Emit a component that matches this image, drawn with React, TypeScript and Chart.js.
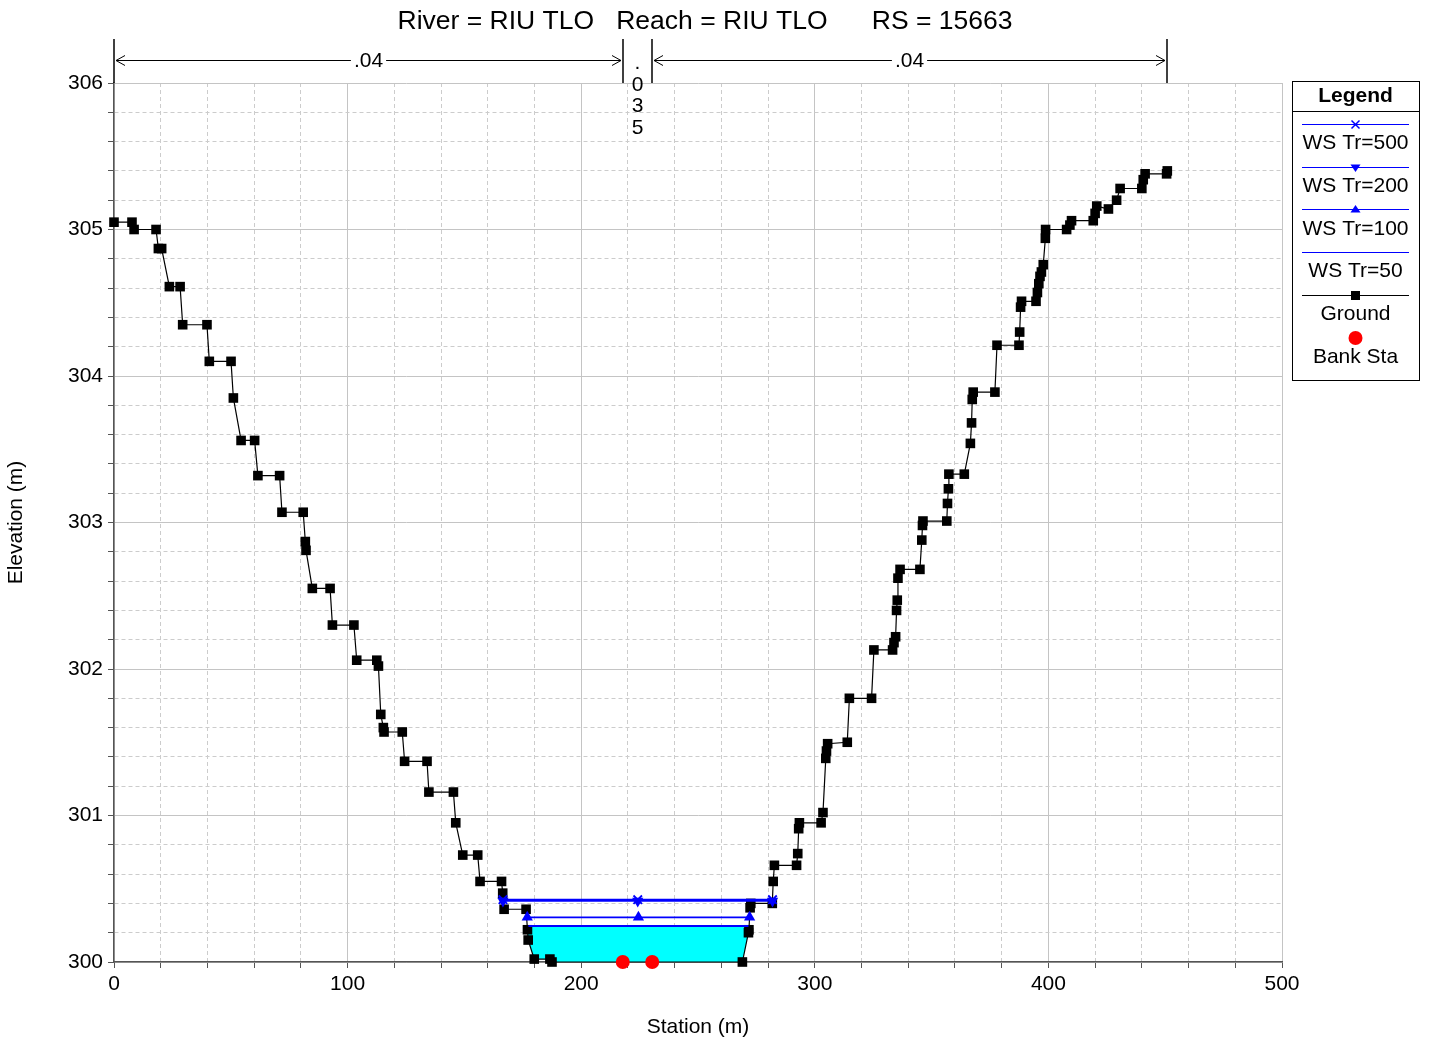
import React, { useEffect, useRef } from 'react';
import { Chart, registerables } from 'chart.js';

Chart.register(...registerables);

const FONT = '"Liberation Sans", Arial, Helvetica, sans-serif';

const titleText = 'River = RIU TLO   Reach = RIU TLO      RS = 15663';
const xAxisTitle = 'Station (m)';
const yAxisTitle = 'Elevation (m)';

const groundStation = [
  0, 7.7, 8.6, 18.0, 19.0, 20.4, 23.7, 28.3, 29.4, 39.8, 40.8, 50.1, 51.1, 54.4, 60.2, 61.6, 70.9, 71.9, 81.0,
  81.9, 82.2, 84.9, 92.5, 93.5, 102.7, 103.9, 112.5, 113.2, 114.2, 115.3, 115.6, 123.4, 124.4, 134.0, 134.8,
  145.3, 146.3, 149.3, 155.7, 156.7, 165.9, 166.4, 167.0, 176.4, 177.0, 177.3, 179.9, 186.6, 187.5, 269.0,
  271.6, 271.8, 272.3, 272.6, 281.8, 282.2, 282.7, 292.2, 292.7, 293.1, 293.4, 302.7, 303.5, 304.7, 305.0,
  305.5, 313.9, 314.8, 324.3, 325.3, 333.3, 333.9, 334.6, 335.0, 335.3, 335.6, 336.5, 345.0, 345.8, 346.1,
  346.3, 356.5, 356.8, 357.2, 357.4, 364.0, 366.6, 367.1, 367.4, 367.8, 377.1, 378.0, 387.4, 387.7, 388.1,
  388.5, 394.7, 395.3, 395.9, 396.4, 397.0, 397.8, 398.7, 398.8, 407.8, 409.2, 409.9, 419.2, 420.0, 420.7,
  425.7, 429.2, 430.7, 440.0, 440.6, 441.4, 450.6, 450.9,
];
const groundElevation = [
  305.05, 305.05, 305.0, 305.0, 304.87, 304.87, 304.61, 304.61, 304.35, 304.35, 304.1, 304.1, 303.85, 303.56,
  303.56, 303.32, 303.32, 303.07, 303.07, 302.87, 302.81, 302.55, 302.55, 302.3, 302.3, 302.06, 302.06, 302.02,
  301.69, 301.6, 301.57, 301.57, 301.37, 301.37, 301.16, 301.16, 300.95, 300.73, 300.73, 300.55, 300.55,
  300.47, 300.36, 300.36, 300.22, 300.15, 300.02, 300.02, 300.0, 300.0, 300.2, 300.22, 300.37, 300.4, 300.4,
  300.55, 300.66, 300.66, 300.74, 300.91, 300.95, 300.95, 301.02, 301.39, 301.44, 301.49, 301.5, 301.8, 301.8,
  302.13, 302.13, 302.18, 302.22, 302.4, 302.47, 302.62, 302.68, 302.68, 302.88, 302.98, 303.01, 303.01,
  303.13, 303.23, 303.33, 303.33, 303.54, 303.68, 303.84, 303.89, 303.89, 304.21, 304.21, 304.3, 304.47,
  304.51, 304.51, 304.57, 304.63, 304.68, 304.71, 304.76, 304.94, 305.0, 305.0, 305.03, 305.06, 305.06,
  305.11, 305.16, 305.14, 305.2, 305.28, 305.28, 305.34, 305.38, 305.38, 305.4,
];

const bankStation = [217.8, 230.4];
const bankElevation = [300.0, 300.0];

const ws500Station = [166.5, 224.2, 281.9];
const ws500Elevation = 300.425;
const ws200Station = [166.5, 224.2, 281.9];
const ws200Elevation = 300.417;
const ws100Station = [176.9, 224.5, 272.1];
const ws100Elevation = 300.305;
const ws50Station = [177.4, 271.6];
const ws50Elevation = 300.245;

const manningStation = [0, 217.8, 230.4, 450.9];
const manningValue = ['.04', '.035', '.04'];

const xMajorLabels = [0, 100, 200, 300, 400, 500];
const yMajorLabels = [300, 301, 302, 303, 304, 305, 306];
const xMinorStep = 20;
const yMinorStep = 0.2;

const legendLabels = ['WS Tr=500', 'WS Tr=200', 'WS Tr=100', 'WS Tr=50', 'Ground', 'Bank Sta'];

const BLUE = '#0000ff';
const CYAN = '#00ffff';
const RED = '#ff0000';

function buildTicks(min: number, max: number, step: number) {
  const out: { value: number }[] = [];
  const n = Math.round((max - min) / step);
  for (let i = 0; i <= n; i++) out.push({ value: Math.round((min + i * step) * 1000) / 1000 });
  return out;
}

function waterPolygon(st: number[], el: number[], ws: number) {
  const pts: { x: number; y: number }[] = [];
  let started = false;
  for (let i = 0; i < st.length - 1; i++) {
    const a = el[i];
    const b = el[i + 1];
    if (!started && a >= ws && b < ws) {
      const t = (a - ws) / (a - b);
      pts.push({ x: st[i] + t * (st[i + 1] - st[i]), y: ws });
      started = true;
    }
    if (started) {
      if (b < ws) {
        pts.push({ x: st[i + 1], y: b });
      } else {
        const t = (ws - a) / (b - a);
        pts.push({ x: st[i] + t * (st[i + 1] - st[i]), y: ws });
        break;
      }
    }
  }
  return pts;
}

function isMajor(v: number, list: number[]) {
  return list.some((m) => Math.abs(m - v) < 1e-6);
}

function drawTri(ctx: CanvasRenderingContext2D, x: number, y: number, r: number, down: boolean) {
  ctx.beginPath();
  if (down) {
    ctx.moveTo(x - r, y - r * 0.6);
    ctx.lineTo(x + r, y - r * 0.6);
    ctx.lineTo(x, y + r * 0.9);
  } else {
    ctx.moveTo(x - r, y + r * 0.6);
    ctx.lineTo(x + r, y + r * 0.6);
    ctx.lineTo(x, y - r * 0.9);
  }
  ctx.closePath();
  ctx.fill();
}

const decorPlugin = {
  id: 'decor',
  afterDraw(chart: any) {
    const { ctx, chartArea } = chart;
    const xs = chart.scales.x;
    ctx.save();

    // Title
    ctx.fillStyle = '#000';
    ctx.font = `26.5px ${FONT}`;
    ctx.textAlign = 'center';
    ctx.textBaseline = 'middle';
    ctx.fillText(titleText, 705, 22);

    // Manning's n annotations
    const lineTop = 39;
    const yArrow = 60.5;
    ctx.strokeStyle = '#000';
    ctx.lineWidth = 1.5;
    const px = manningStation.map((s) => Math.round(xs.getPixelForValue(s)));
    px.forEach((p) => {
      ctx.beginPath();
      ctx.moveTo(p, lineTop);
      ctx.lineTo(p, chartArea.top);
      ctx.stroke();
    });
    ctx.font = `21px ${FONT}`;
    ctx.lineWidth = 1;
    for (let i = 0; i < manningValue.length; i++) {
      const x1 = px[i];
      const x2 = px[i + 1];
      const label = manningValue[i];
      const w = ctx.measureText(label).width;
      if (x2 - x1 > w + 40) {
        const a1 = x1 + 2;
        const a2 = x2 - 2;
        ctx.beginPath();
        ctx.moveTo(a1, yArrow);
        ctx.lineTo(a2, yArrow);
        ctx.moveTo(a1 + 9, yArrow - 5);
        ctx.lineTo(a1, yArrow);
        ctx.lineTo(a1 + 9, yArrow + 5);
        ctx.moveTo(a2 - 9, yArrow - 5);
        ctx.lineTo(a2, yArrow);
        ctx.lineTo(a2 - 9, yArrow + 5);
        ctx.stroke();
        const cx = (x1 + x2) / 2;
        ctx.fillStyle = '#fff';
        ctx.fillRect(cx - w / 2 - 3, yArrow - 8, w + 6, 16);
        ctx.fillStyle = '#000';
        ctx.fillText(label, cx, yArrow + 1);
      } else {
        const cx = (x1 + x2) / 2;
        ctx.fillStyle = '#000';
        const chars = label.split('');
        chars.forEach((c, k) => {
          ctx.fillText(c, cx, 63.5 + k * 21.5);
        });
      }
    }

    // Legend
    const L = chartArea.right + 10;
    const R = 1419;
    const T = 81;
    const B = 380;
    const cx = (L + R) / 2;
    ctx.fillStyle = '#fff';
    ctx.fillRect(L, T, R - L, B - T);
    ctx.strokeStyle = '#000';
    ctx.lineWidth = 1;
    ctx.strokeRect(L + 0.5, T + 0.5, R - L, B - T);
    ctx.beginPath();
    ctx.moveTo(L, 111.5);
    ctx.lineTo(R, 111.5);
    ctx.stroke();
    ctx.fillStyle = '#000';
    ctx.font = `bold 21px ${FONT}`;
    ctx.fillText('Legend', cx, 96);

    const lineYs = [124.5, 167.5, 209.5, 252.5, 295.5, 338];
    const labelYs = [143, 186, 229, 271, 314, 357];
    const lx1 = L + 10;
    const lx2 = R - 10;
    ctx.font = `21px ${FONT}`;
    legendLabels.forEach((lab, i) => {
      const y = lineYs[i];
      if (i < 5) {
        ctx.strokeStyle = i === 4 ? '#000' : BLUE;
        ctx.lineWidth = 1;
        ctx.beginPath();
        ctx.moveTo(lx1, y);
        ctx.lineTo(lx2, y);
        ctx.stroke();
      }
      if (i === 0) {
        ctx.strokeStyle = BLUE;
        ctx.lineWidth = 1.5;
        ctx.beginPath();
        ctx.moveTo(cx - 4, y - 4);
        ctx.lineTo(cx + 4, y + 4);
        ctx.moveTo(cx + 4, y - 4);
        ctx.lineTo(cx - 4, y + 4);
        ctx.stroke();
      } else if (i === 1) {
        ctx.fillStyle = BLUE;
        drawTri(ctx, cx, y, 5, true);
      } else if (i === 2) {
        ctx.fillStyle = BLUE;
        drawTri(ctx, cx, y, 5, false);
      } else if (i === 4) {
        ctx.fillStyle = '#000';
        ctx.fillRect(cx - 4.5, y - 4.5, 9, 9);
      } else if (i === 5) {
        ctx.fillStyle = RED;
        ctx.beginPath();
        ctx.arc(cx, y, 7, 0, Math.PI * 2);
        ctx.fill();
      }
      ctx.fillStyle = '#000';
      ctx.fillText(lab, cx, labelYs[i]);
    });

    ctx.restore();
  },
};

export default function App() {
  const ref = useRef<HTMLCanvasElement | null>(null);

  useEffect(() => {
    const canvas = ref.current;
    if (!canvas) return;

    const ground = groundStation.map((x, i) => ({ x, y: groundElevation[i] }));
    const bank = bankStation.map((x, i) => ({ x, y: bankElevation[i] }));
    const ws500 = ws500Station.map((x) => ({ x, y: ws500Elevation }));
    const ws200 = ws200Station.map((x) => ({ x, y: ws200Elevation }));
    const ws100 = ws100Station.map((x) => ({ x, y: ws100Elevation }));
    const ws50 = ws50Station.map((x) => ({ x, y: ws50Elevation }));
    const water = waterPolygon(groundStation, groundElevation, ws50Elevation);

    const gridColor = (list: number[]) => (c: any) =>
      c.tick && isMajor(c.tick.value, list) ? '#c4c4c4' : '#cccccc';
    const gridDash = (list: number[]) => (c: any) =>
      c.tick && !isMajor(c.tick.value, list) ? [4, 3] : [];

    const chart = new Chart(canvas, {
      type: 'line',
      data: {
        datasets: [
          {
            label: 'Bank Sta',
            data: bank,
            showLine: false,
            pointStyle: 'circle',
            pointRadius: 7,
            pointBackgroundColor: RED,
            pointBorderWidth: 0,
            borderColor: RED,
            clip: false,
          } as any,
          {
            label: 'WS Tr=500',
            data: ws500,
            borderColor: BLUE,
            borderWidth: 1.8,
            pointStyle: 'crossRot',
            pointRadius: 6,
            pointBorderColor: BLUE,
            pointBorderWidth: 1.8,
            fill: false,
          },
          {
            label: 'WS Tr=200',
            data: ws200,
            borderColor: BLUE,
            borderWidth: 1.8,
            pointStyle: 'triangle',
            pointRotation: 180,
            pointRadius: 6.5,
            pointBackgroundColor: BLUE,
            pointBorderColor: BLUE,
            pointBorderWidth: 0,
            fill: false,
          },
          {
            label: 'WS Tr=100',
            data: ws100,
            borderColor: BLUE,
            borderWidth: 1.8,
            pointStyle: 'triangle',
            pointRadius: 6.5,
            pointBackgroundColor: BLUE,
            pointBorderColor: BLUE,
            pointBorderWidth: 0,
            fill: false,
          },
          {
            label: 'WS Tr=50',
            data: ws50,
            borderColor: BLUE,
            borderWidth: 2,
            pointRadius: 0,
            fill: false,
          },
          {
            label: 'Ground',
            data: ground,
            borderColor: '#000',
            borderWidth: 1.2,
            pointStyle: 'rect',
            pointRadius: 6.8,
            pointBackgroundColor: '#000',
            pointBorderWidth: 0,
            fill: false,
            clip: false,
          } as any,
          {
            label: 'water',
            data: water,
            borderColor: 'rgba(0,0,0,0)',
            borderWidth: 0,
            backgroundColor: CYAN,
            pointRadius: 0,
            fill: 'shape',
          } as any,
        ],
      },
      options: {
        animation: false,
        responsive: false,
        devicePixelRatio: 1,
        events: [],
        parsing: false as any,
        layout: { padding: { top: 83, right: 148, left: 0, bottom: 0 } },
        plugins: {
          legend: { display: false },
          tooltip: { enabled: false },
          title: { display: false },
        },
        scales: {
          x: {
            type: 'linear',
            min: 0,
            max: 500,
            afterBuildTicks: (s: any) => {
              s.ticks = buildTicks(0, 500, xMinorStep);
            },
            afterFit: (s: any) => {
              s.height = 82;
            },
            ticks: {
              autoSkip: false,
              maxRotation: 0,
              minRotation: 0,
              padding: 4,
              color: '#000',
              font: { family: FONT, size: 21 },
              callback: (v: any) => (isMajor(Number(v), xMajorLabels) ? String(Math.round(Number(v))) : ''),
            },
            grid: {
              color: gridColor(xMajorLabels),
              lineWidth: 1,
              tickLength: 6,
              tickColor: '#555',
              drawTicks: true,
            },
            border: { display: true, color: '#555', width: 1.5, dash: gridDash(xMajorLabels) as any },
            title: {
              display: true,
              text: xAxisTitle,
              color: '#000',
              font: { family: FONT, size: 21 },
              padding: { top: 0, bottom: 4 },
            },
          },
          y: {
            type: 'linear',
            min: 300,
            max: 306,
            afterBuildTicks: (s: any) => {
              s.ticks = buildTicks(300, 306, yMinorStep);
            },
            afterFit: (s: any) => {
              s.width = 114;
            },
            ticks: {
              autoSkip: false,
              padding: 5,
              color: '#000',
              font: { family: FONT, size: 21 },
              callback: (v: any) => (isMajor(Number(v), yMajorLabels) ? String(Math.round(Number(v))) : ''),
            },
            grid: {
              color: gridColor(yMajorLabels),
              lineWidth: 1,
              tickLength: 6,
              tickColor: '#555',
              drawTicks: true,
            },
            border: { display: true, color: '#555', width: 1.5, dash: gridDash(yMajorLabels) as any },
            title: {
              display: true,
              text: yAxisTitle,
              color: '#000',
              font: { family: FONT, size: 21 },
              padding: { top: 4, bottom: 0 },
            },
          },
        },
      } as any,
      plugins: [decorPlugin],
    });

    return () => chart.destroy();
  }, []);

  return (
    <div style={{ position: 'fixed', left: 0, top: 0, width: 1430, height: 1044, background: '#fff' }}>
      <canvas ref={ref} width={1430} height={1044} style={{ display: 'block', width: 1430, height: 1044 }} />
    </div>
  );
}
